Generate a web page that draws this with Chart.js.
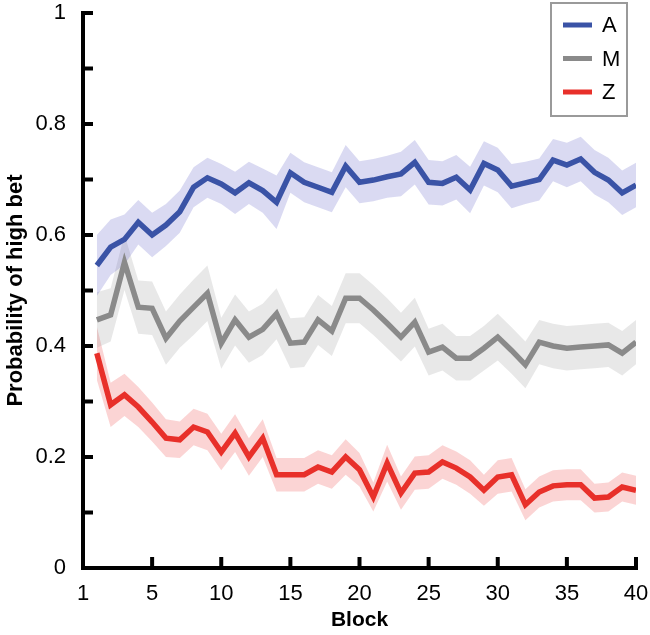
<!DOCTYPE html>
<html>
<head>
<meta charset="utf-8">
<script src="https://cdn.jsdelivr.net/npm/chart.js@4.4.1/dist/chart.umd.min.js"></script>
<style>
  html, body { margin: 0; padding: 0; background: #fff; }
  #chart { display: block; }
</style>
</head>
<body>
<canvas id="chart" width="650" height="635"></canvas>
<script>
// Probability of high bet per block, three groups (mean ± band)

const blocks = [1,2,3,4,5,6,7,8,9,10,11,12,13,14,15,16,17,18,19,20,
                21,22,23,24,25,26,27,28,29,30,31,32,33,34,35,36,37,38,39,40];

const seriesNames = ['A', 'M', 'Z'];

const meanA = [0.545,0.578,0.592,0.623,0.600,0.618,0.642,0.686,0.703,0.692,
               0.676,0.694,0.680,0.659,0.712,0.695,0.686,0.677,0.724,0.695,
               0.699,0.705,0.710,0.731,0.695,0.693,0.704,0.681,0.729,0.717,
               0.688,0.694,0.700,0.735,0.726,0.737,0.713,0.699,0.676,0.690];
const errA  = [0.055,0.050,0.045,0.040,0.040,0.038,0.038,0.036,0.036,0.036,
               0.038,0.038,0.040,0.048,0.036,0.036,0.036,0.036,0.038,0.038,
               0.038,0.038,0.040,0.040,0.040,0.040,0.040,0.042,0.040,0.040,
               0.040,0.038,0.038,0.038,0.040,0.040,0.040,0.040,0.040,0.040];

const meanM = [0.447,0.456,0.551,0.470,0.468,0.414,0.445,0.470,0.495,0.405,
               0.447,0.416,0.430,0.458,0.405,0.407,0.447,0.427,0.486,0.486,
               0.465,0.441,0.416,0.443,0.389,0.398,0.378,0.378,0.396,0.416,
               0.392,0.366,0.407,0.400,0.396,0.398,0.400,0.402,0.387,0.407];
const errM  = [0.050,0.048,0.050,0.048,0.048,0.048,0.048,0.050,0.050,0.046,
               0.046,0.046,0.046,0.046,0.045,0.045,0.045,0.045,0.045,0.045,
               0.045,0.045,0.044,0.044,0.042,0.042,0.040,0.040,0.040,0.042,
               0.042,0.042,0.040,0.040,0.040,0.040,0.040,0.040,0.040,0.040];

const meanZ = [0.387,0.294,0.312,0.290,0.263,0.234,0.231,0.254,0.245,0.209,
               0.243,0.200,0.234,0.168,0.168,0.168,0.182,0.173,0.200,0.177,
               0.128,0.189,0.135,0.171,0.173,0.191,0.180,0.164,0.140,0.164,
               0.168,0.114,0.137,0.148,0.150,0.150,0.126,0.128,0.146,0.140];
const errZ  = [0.048,0.040,0.038,0.036,0.035,0.034,0.033,0.033,0.033,0.033,
               0.034,0.034,0.034,0.030,0.030,0.030,0.030,0.030,0.032,0.030,
               0.026,0.033,0.030,0.030,0.030,0.030,0.030,0.030,0.028,0.030,
               0.030,0.028,0.028,0.028,0.028,0.028,0.026,0.026,0.026,0.026];

const xTickLabels = ['1','5','10','15','20','25','30','35','40'];
const yTickLabels = ['0','0.2','0.4','0.6','0.8','1'];

const lineColors = ['#3a53a6', '#8a8a8a', '#e8302a'];
const bandColors = ['rgba(70,70,190,0.2)', 'rgba(140,140,140,0.2)', 'rgba(235,60,60,0.22)'];

const FONT = '"Liberation Sans", Arial, Helvetica, sans-serif';

function pts(vals) {
  return vals.map((v, i) => ({ x: blocks[i], y: v }));
}
function shift(vals, err, sign) {
  return vals.map((v, i) => ({ x: blocks[i], y: v + sign * err[i] }));
}

const means = [meanA, meanM, meanZ];
const errs  = [errA, errM, errZ];

const datasets = [];
means.forEach((m, k) => {
  datasets.push({
    label: seriesNames[k],
    data: pts(m),
    borderColor: lineColors[k],
    borderWidth: 5.5,
    pointRadius: 0,
    fill: false,
    tension: 0,
    order: 0
  });
});
// bands: upper fills down to the lower one that follows it
means.forEach((m, k) => {
  datasets.push({
    label: seriesNames[k] + ' hi',
    data: shift(m, errs[k], 1),
    borderWidth: 0,
    pointRadius: 0,
    backgroundColor: bandColors[k],
    fill: '+1',
    order: 1
  });
  datasets.push({
    label: seriesNames[k] + ' lo',
    data: shift(m, errs[k], -1),
    borderWidth: 0,
    pointRadius: 0,
    fill: false,
    order: 1
  });
});

// black axes with inward ticks
const axisPlugin = {
  id: 'axisPlugin',
  afterDraw(chart) {
    const { ctx, chartArea: a, scales: { x, y } } = chart;
    ctx.save();
    ctx.strokeStyle = '#000';
    ctx.lineWidth = 4;
    ctx.lineCap = 'butt';
    ctx.lineJoin = 'miter';
    ctx.beginPath();
    ctx.moveTo(a.left, y.getPixelForValue(1) - 2);
    ctx.lineTo(a.left, a.bottom);
    ctx.lineTo(x.getPixelForValue(40) + 2, a.bottom);
    ctx.stroke();
    ctx.beginPath();
    y.ticks.forEach(t => {
      const py = y.getPixelForValue(t.value);
      ctx.moveTo(a.left, py);
      ctx.lineTo(a.left + 10, py);
    });
    x.ticks.forEach(t => {
      if (t.value === 0) return;
      const px = x.getPixelForValue(t.value);
      ctx.moveTo(px, a.bottom);
      ctx.lineTo(px, a.bottom - 11);
    });
    ctx.stroke();
    ctx.restore();
  }
};

// boxed legend in the top right corner
const legendPlugin = {
  id: 'legendPlugin',
  afterDraw(chart) {
    const ctx = chart.ctx;
    ctx.save();
    ctx.strokeStyle = '#9a9a9a';
    ctx.lineWidth = 2;
    ctx.strokeRect(551, 3, 76, 113);
    seriesNames.forEach((name, i) => {
      const yy = 25 + i * 33.5;
      ctx.strokeStyle = lineColors[i];
      ctx.lineWidth = 5;
      ctx.beginPath();
      ctx.moveTo(563, yy);
      ctx.lineTo(592, yy);
      ctx.stroke();
      ctx.fillStyle = '#000';
      ctx.font = '22px ' + FONT;
      ctx.textBaseline = 'middle';
      ctx.fillText(name, 602, yy + 1);
    });
    ctx.restore();
  }
};

new Chart(document.getElementById('chart'), {
  type: 'line',
  data: { datasets },
  plugins: [axisPlugin, legendPlugin],
  options: {
    responsive: false,
    devicePixelRatio: 1,
    animation: false,
    layout: { padding: { left: 0, right: 14, top: 13, bottom: 0 } },
    plugins: {
      legend: { display: false },
      tooltip: { enabled: false }
    },
    scales: {
      x: {
        type: 'linear',
        min: 0,
        max: 40,
        grid: { display: false },
        border: { display: false },
        ticks: {
          stepSize: 5,
          padding: 5,
          color: '#000',
          font: { family: FONT, size: 22 },
          maxRotation: 0,
          autoSkip: false,
          callback: (v) => xTickLabels[v / 5]
        },
        title: {
          display: true,
          text: 'Block',
          color: '#000',
          font: { family: FONT, size: 21, weight: 'bold' },
          padding: { top: 2, bottom: 2 }
        },
        afterFit: (s) => { s.height = 67; s.paddingLeft = 0; s.paddingRight = 0; }
      },
      y: {
        min: 0,
        max: 1,
        grid: { display: false },
        border: { display: false },
        ticks: {
          stepSize: 0.1,
          padding: 9,
          color: '#000',
          font: { family: FONT, size: 22 },
          autoSkip: false,
          callback: (v) => {
            const k = Math.round(v * 10);
            return k % 2 === 0 ? yTickLabels[k / 2] : '';
          }
        },
        title: {
          display: true,
          text: 'Probability of high bet',
          color: '#000',
          font: { family: FONT, size: 22, weight: 'bold' },
          padding: { top: 3, bottom: 0 }
        },
        afterFit: (s) => { s.width = 83; s.paddingTop = 0; s.paddingBottom = 0; }
      }
    }
  }
});
</script>
</body>
</html>
